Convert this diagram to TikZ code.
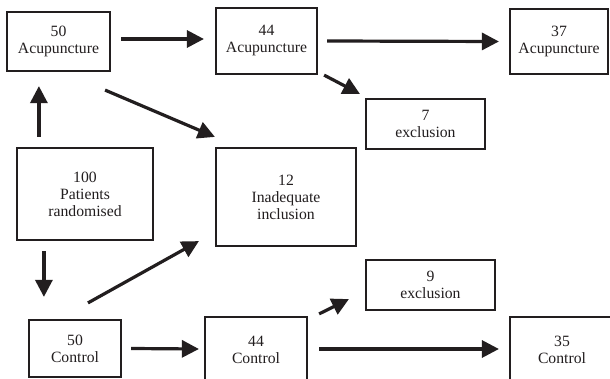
\documentclass[tikz,border=0pt]{standalone}
\usepackage{fontspec}
\setmainfont{Liberation Serif}
\usetikzlibrary{arrows.meta,calc}
\definecolor{ink}{RGB}{34,30,31}
\tikzset{
  boxnode/.style={draw=ink, line width=2.2pt, rectangle, align=center, inner sep=0pt,
    font=\fontsize{15.7}{17}\selectfont, text=ink},
  arr/.style={line width=3.2pt, draw=ink, -{Triangle[length=17pt,width=17pt]}}
}
\begin{document}
\begin{tikzpicture}[x=1pt,y=-1pt]
\useasboundingbox (0,0) rectangle (610,379);
\clip (0,0) rectangle (610,379);
\fill[white] (0,0) rectangle (610,379);
\node[boxnode, minimum width=103pt, minimum height=59pt] (a50) at (58.5,41.5) {50\\Acupuncture};
\node[boxnode, minimum width=101pt, minimum height=66pt] (a44) at (266.5,41) {44\\Acupuncture};
\node[boxnode, minimum width=98pt, minimum height=65pt] (a37) at (559,41.5) {37\\Acupuncture};
\node[boxnode, minimum width=119pt, minimum height=50pt] (e7) at (425.5,124) {7\\exclusion};
\node[boxnode, minimum width=136pt, minimum height=92pt] (p100) at (85,194) {100\\Patients\\randomised};
\node[boxnode, minimum width=140pt, minimum height=98pt] (i12) at (286,197) {12\\Inadequate\\inclusion};
\node[boxnode, minimum width=129pt, minimum height=50pt] (e9) at (430.5,285) {9\\exclusion};
\node[boxnode, minimum width=92pt, minimum height=57pt] (c50) at (75,348.5) {50\\Control};
\node[boxnode, minimum width=102pt, minimum height=66pt] (c44) at (256,350) {44\\Control};
\node[boxnode, minimum width=104pt, minimum height=66pt] (c35) at (562,350) {35\\Control};

\draw[arr] ($(a50.east)+(10,-2.5)$) -- ($(a44.west)+(-11,-2)$);
\draw[arr] ($(a44.east)+(9,0)$) -- ($(a37.west)+(-10,0)$);
\draw[arr] ($(a44.south east)+(6,0)$) -- ($(e7.north west)+(-5,-4)$);
\draw[arr] ($(a50.south east)+(-6,18)$) -- ($(i12.north west)+(0,-10)$);
\draw[arr] ($(p100.north west)+(23,-10)$) -- ($(a50.south west)+(33,14)$);
\draw[arr] ($(p100.south west)+(28,10)$) -- ($(c50.north west)+(16,-22)$);
\draw[arr] ($(c50.north)+(13,-16)$) -- ($(i12.south west)+(-16,-6)$);
\draw[arr] ($(c50.east)+(9,0)$) -- ($(c44.west)+(-5,-1)$);
\draw[arr] ($(c44.north east)+(11,-2)$) -- ($(e9.south west)+(-16,-12)$);
\draw[arr] ($(c44.east)+(11,-1)$) -- ($(c35.west)+(-10,-1)$);
\end{tikzpicture}
\end{document}
